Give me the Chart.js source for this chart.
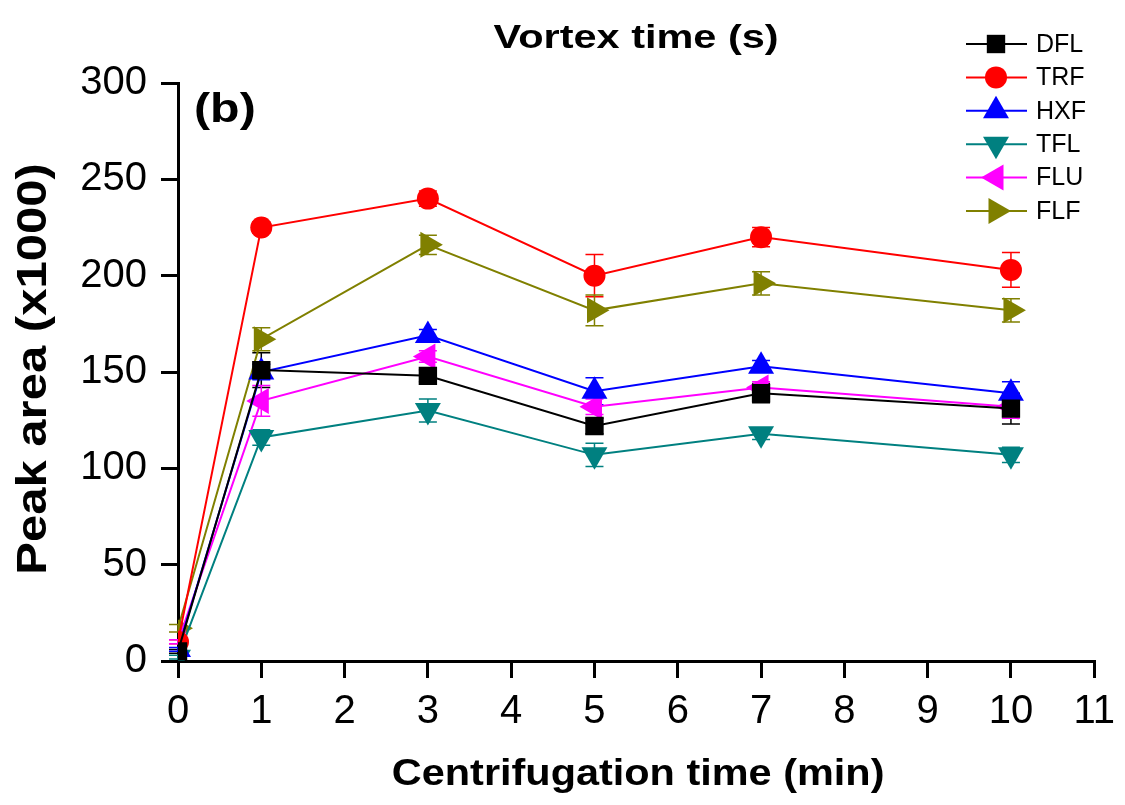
<!DOCTYPE html>
<html>
<head>
<meta charset="utf-8">
<script src="https://cdn.jsdelivr.net/npm/chart.js@4.4.1/dist/chart.umd.min.js"></script>
<style>
html,body{margin:0;padding:0;background:#fff;}
#wrap{width:1125px;height:805px;}
</style>
</head>
<body>
<div id="wrap"><canvas id="c" width="1125" height="805"></canvas></div>
<script>
const xValues = [0, 1, 3, 5, 7, 10];
const seriesNames = ['DFL', 'TRF', 'HXF', 'TFL', 'FLU', 'FLF'];
const DFL = [5, 151, 148, 122, 139, 131];
const TRF = [10, 225, 240, 200, 220, 203];
const HXF = [6, 150, 169, 140, 153, 139];
const TFL = [2, 116, 130, 107, 118, 107];
const FLU = [10, 135, 158, 132, 142, 132];
const FLF = [17, 167, 216, 182, 196, 182];
const DFL_err = [1, 9, 3, 4, 5, 8];
const TRF_err = [1, 3, 4, 11, 5, 9];
const HXF_err = [1, 4, 3, 7, 3, 6];
const TFL_err = [1, 4, 6, 6, 3, 4];
const FLU_err = [1, 8, 3, 4, 3, 6];
const FLF_err = [2, 6, 5, 8, 6, 6];
const xTicks = [0,1,2,3,4,5,6,7,8,9,10,11];
const yTicks = [0,50,100,150,200,250,300];
const topTitle = 'Vortex time (s)';
const xTitle = 'Centrifugation time (min)';
const yTitle = 'Peak area (x1000)';
const panelLabel = '(b)';

const FONT = "'Liberation Sans', Arial, sans-serif";
const colors = ['#000000', '#ff0000', '#0000ff', '#008080', '#ff00ff', '#808000'];
const styles = ['rect', 'circle', 'triangle', 'triangle', 'triangle', 'triangle'];
const rotations = [0, 0, 0, 180, 270, 90];
const radii = [13, 11, 15, 15, 15, 15];
const values = [DFL, TRF, HXF, TFL, FLU, FLF];
const errs = [DFL_err, TRF_err, HXF_err, TFL_err, FLU_err, FLF_err];

const datasets = seriesNames.map((n, i) => ({
  label: n,
  data: xValues.map((x, j) => ({x: x, y: values[i][j]})),
  err: errs[i],
  borderColor: colors[i],
  backgroundColor: colors[i],
  pointBackgroundColor: colors[i],
  pointBorderColor: colors[i],
  borderWidth: 2,
  pointStyle: styles[i],
  pointRotation: rotations[i],
  pointRadius: radii[i],
  pointBorderWidth: 0,
  tension: 0
}));

const errorBars = {
  id: 'errorBars',
  beforeDatasetsDraw(chart) {
    const ctx = chart.ctx, xs = chart.scales.x, ys = chart.scales.y;
    ctx.save();
    chart.data.datasets.forEach((ds) => {
      ctx.strokeStyle = ds.borderColor;
      ctx.lineWidth = 1.5;
      ds.data.forEach((p, j) => {
        const e = ds.err[j];
        const px = xs.getPixelForValue(p.x);
        const top = ys.getPixelForValue(p.y + e);
        const bot = ys.getPixelForValue(Math.max(0, p.y - e));
        ctx.beginPath();
        ctx.moveTo(px, top); ctx.lineTo(px, bot);
        ctx.moveTo(px - 9, top); ctx.lineTo(px + 9, top);
        ctx.moveTo(px - 9, bot); ctx.lineTo(px + 9, bot);
        ctx.stroke();
      });
    });
    ctx.restore();
  }
};

function stretchedText(ctx, text, x, y, sx, rot) {
  ctx.save();
  ctx.translate(x, y);
  if (rot) ctx.rotate(rot);
  ctx.scale(sx, 1);
  ctx.fillText(text, 0, 0);
  ctx.restore();
}

const extras = {
  id: 'extras',
  afterDraw(chart) {
    const ctx = chart.ctx;
    const ca = chart.chartArea;
    const cx = (ca.left + ca.right) / 2;
    const cy = (ca.top + ca.bottom) / 2;
    ctx.save();
    ctx.fillStyle = '#000';
    ctx.textAlign = 'center';
    ctx.textBaseline = 'alphabetic';
    ctx.font = 'bold 34px ' + FONT;
    stretchedText(ctx, topTitle, cx, 48, 1.22, 0);
    ctx.font = 'bold 37px ' + FONT;
    stretchedText(ctx, xTitle, cx + 2, 785, 1.12, 0);
    ctx.font = 'bold 43px ' + FONT;
    stretchedText(ctx, yTitle, 46, cy - 3, 1.14, -Math.PI / 2);
    ctx.textAlign = 'left';
    ctx.font = 'bold 41px ' + FONT;
    stretchedText(ctx, panelLabel, 194, 122, 1.18, 0);
    // legend
    const rowY0 = 44, rowDy = 33.4;
    chart.data.datasets.forEach((ds, i) => {
      const y = rowY0 + i * rowDy;
      ctx.strokeStyle = ds.borderColor;
      ctx.lineWidth = 2;
      ctx.beginPath();
      ctx.moveTo(966, y); ctx.lineTo(1027, y);
      ctx.stroke();
      ctx.fillStyle = ds.borderColor;
      Chart.helpers.drawPoint(ctx, {
        pointStyle: ds.pointStyle,
        rotation: ds.pointRotation,
        radius: ds.pointRadius,
        borderWidth: 0
      }, 996, y);
      ctx.fillStyle = '#000';
      ctx.font = '25px ' + FONT;
      ctx.textAlign = 'left';
      ctx.textBaseline = 'middle';
      ctx.fillText(ds.label, 1036, y + 1);
    });
    ctx.restore();
  }
};

new Chart(document.getElementById('c'), {
  type: 'line',
  data: { datasets: datasets },
  plugins: [errorBars, extras],
  options: {
    responsive: false,
    animation: false,
    devicePixelRatio: 1,
    layout: { padding: { left: 0, top: 83, right: 22, bottom: 0 } },
    plugins: { legend: { display: false }, tooltip: { enabled: false } },
    scales: {
      x: {
        type: 'linear', min: 0, max: 11,
        afterBuildTicks(s) { s.ticks = xTicks.map(v => ({value: v})); },
        afterFit(s) { s.height = 144; },
        grid: { drawOnChartArea: false, drawTicks: true, tickLength: 17, color: '#000', lineWidth: 3 },
        border: { display: true, color: '#000', width: 3 },
        ticks: { color: '#000', font: { size: 40, family: FONT }, padding: 10, maxRotation: 0 },
        title: { display: false }
      },
      y: {
        type: 'linear', min: 0, max: 300,
        afterBuildTicks(s) { s.ticks = yTicks.map(v => ({value: v})); },
        afterFit(s) { s.width = 178; },
        grid: { drawOnChartArea: false, drawTicks: true, tickLength: 17, color: '#000', lineWidth: 3 },
        border: { display: true, color: '#000', width: 3 },
        ticks: { color: '#000', font: { size: 40, family: FONT }, padding: 14 },
        title: { display: false }
      }
    }
  }
});
</script>
</body>
</html>
